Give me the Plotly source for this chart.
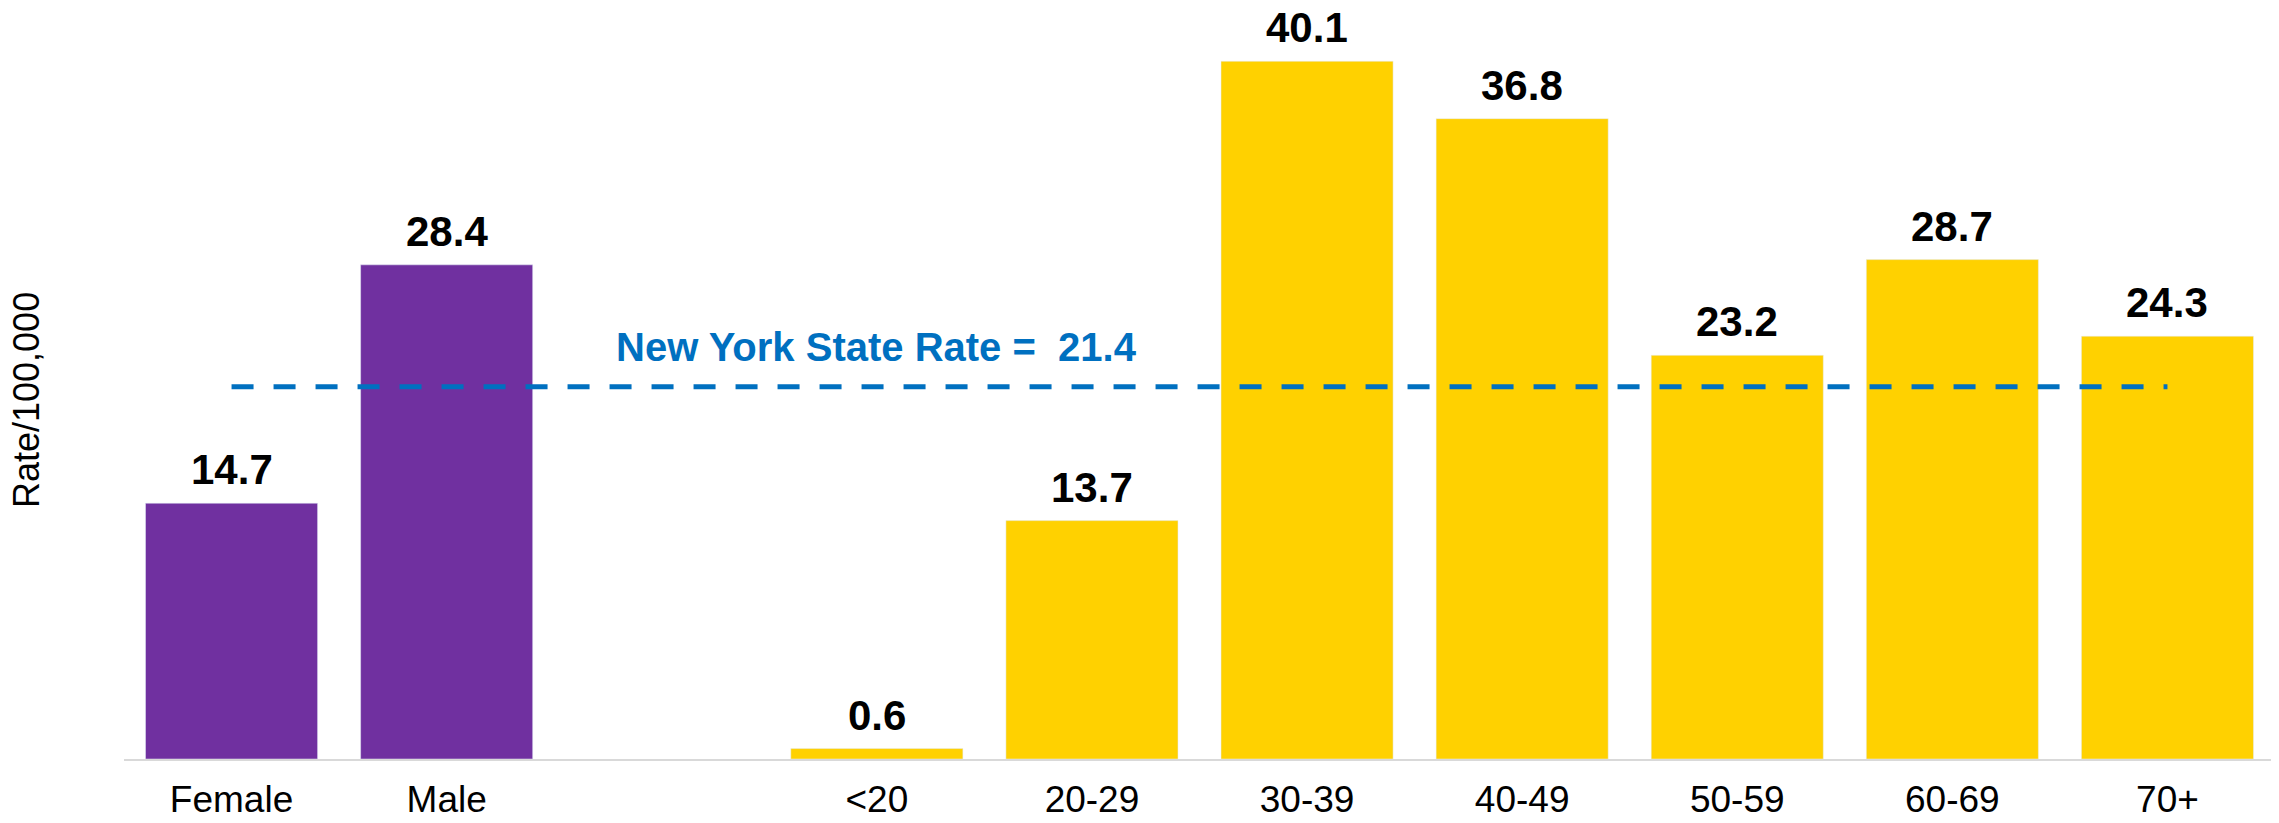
import plotly.graph_objects as go

# data
sex_labels = ["Female", "Male"]
sex_rates = [14.7, 28.4]
age_labels = ["<20", "20-29", "30-39", "40-49", "50-59", "60-69", "70+"]
age_rates = [0.6, 13.7, 40.1, 36.8, 23.2, 28.7, 24.3]
nys_rate = 21.4
gap_label = " "   # empty slot between sex and age groups

categories = sex_labels + [gap_label] + age_labels
PURPLE = "#7030A0"
YELLOW = "#FFD100"
BLUE = "#0070C0"
FONT = "Liberation Sans, Arial, sans-serif"

bar_sex = go.Bar(x=sex_labels, y=sex_rates, marker_color=PURPLE, showlegend=False)
bar_age = go.Bar(x=age_labels, y=age_rates, marker_color=YELLOW, showlegend=False)
# state rate reference line, from first to last category
line_nys = go.Scatter(x=[categories[0], categories[-1]], y=[nys_rate, nys_rate],
                      mode="lines", line=dict(color=BLUE, width=5, dash="22px,20px"),
                      showlegend=False, hoverinfo="skip")

fig = go.Figure([bar_sex, bar_age, line_nys])
# page body has an 8px margin, so figure is 8px smaller than the window
fig.update_layout(
    width=2271, height=815,
    margin=dict(l=116, r=4, t=0, b=64),
    plot_bgcolor="white", paper_bgcolor="white",
    bargap=0.2,
    font=dict(family=FONT, color="black"),
)
fig.update_xaxes(type="category", categoryorder="array", categoryarray=categories,
                 range=[-0.5, len(categories) - 0.5],
                 showline=True, linecolor="#D9D9D9", linewidth=2,
                 ticks="", tickfont=dict(size=37, color="black"),
                 ticklabelstandoff=7, showgrid=False, automargin=False)
fig.update_yaxes(range=[0, 43.16], showticklabels=False, showgrid=False,
                 zeroline=False, showline=False, automargin=False)

# value labels above bars
for lab, val in list(zip(sex_labels, sex_rates)) + list(zip(age_labels, age_rates)):
    fig.add_annotation(x=lab, y=val, xref="x", yref="y", text="%.1f" % val,
                       showarrow=False, yanchor="bottom", yshift=8,
                       font=dict(size=42, color="black", family=FONT, weight="bold"))

fig.add_annotation(x="<20", y=nys_rate, xref="x", yref="y",
                   text="New York State Rate =\u00a0 21.4", showarrow=False,
                   yanchor="bottom", yshift=16,
                   font=dict(size=40, color=BLUE, family=FONT, weight="bold"))
fig.add_annotation(x=0, y=0.478, xref="paper", yref="paper", xanchor="center",
                   yanchor="middle", xshift=-98, textangle=-90,
                   text="Rate/100,000", showarrow=False,
                   font=dict(size=36, color="black", family=FONT))

fig.write_html("out.html")
